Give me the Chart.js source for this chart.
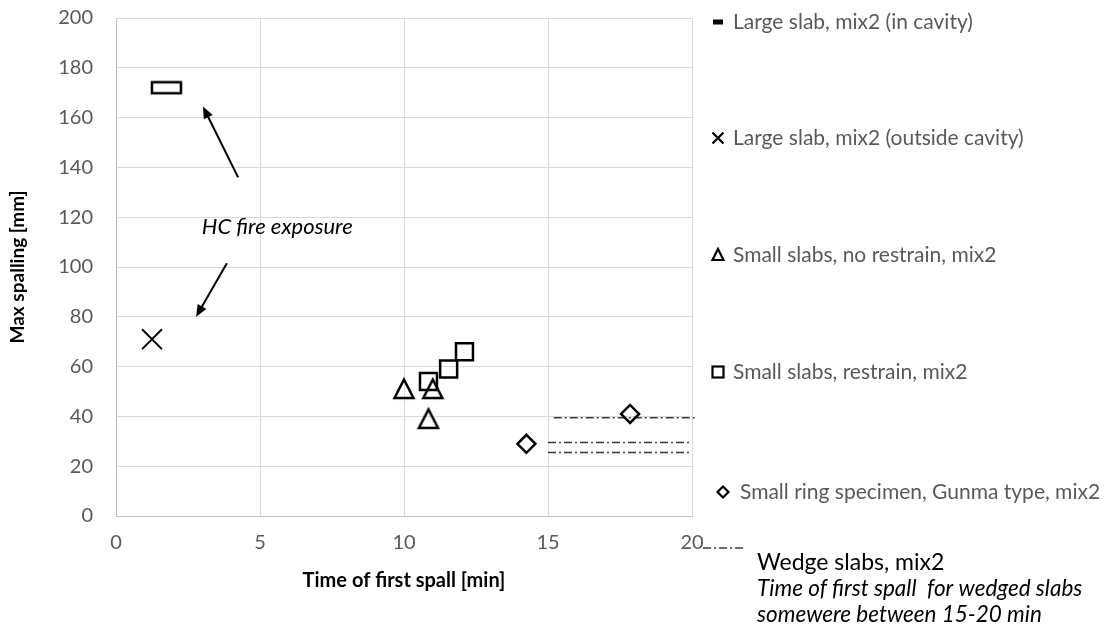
<!DOCTYPE html>
<html>
<head>
<meta charset="utf-8">
<script src="https://cdn.jsdelivr.net/npm/chart.js"></script>
<style>
  html, body { margin: 0; padding: 0; background: #fff; }
  #wrap { width: 1105px; height: 628px; }
</style>
</head>
<body>
<div id="wrap"><canvas id="spall" width="1105" height="628"></canvas></div>
<script>
// time of first spall [min] and max spalling depth [mm] per specimen group
const cavityTime = [1.75];
const cavitySpall = [172];
const outsideTime = [1.25];
const outsideSpall = [71];
const noRestrainTime = [10.0, 11.0, 10.85];
const noRestrainSpall = [51, 51, 39];
const restrainTime = [10.85, 11.55, 12.1];
const restrainSpall = [54, 59, 66];
const ringTime = [14.25, 17.85];
const ringSpall = [29, 41];
// wedge slabs: first spall somewhere between 15 and 20 min
const wedgeFrom = [15.2, 15.0, 15.0];
const wedgeTo = [20.1, 20.0, 20.0];
const wedgeSpall = [39.5, 29.5, 25.5];

const xTicks = [0, 5, 10, 15, 20];
const yTicks = [0, 20, 40, 60, 80, 100, 120, 140, 160, 180, 200];

const seriesNames = [
  'Large slab, mix2 (in cavity)',
  'Large slab, mix2 (outside cavity)',
  'Small slabs, no restrain, mix2',
  'Small slabs, restrain, mix2',
  'Small ring specimen, Gunma type, mix2',
  'Wedge slabs, mix2'
];
const wedgeNote = ['Time of first spall  for wedged slabs', 'somewere between 15-20 min'];
const fireNote = 'HC fire exposure';

const FONT = 'Lato';
const GREY = '#595959';
const DASHDOT = [8, 3, 2, 3];

function pts(xs, ys) {
  return xs.map((v, i) => ({x: v, y: ys[i]}));
}

function markCanvas(w, h, draw) {
  const c = document.createElement('canvas');
  c.width = w; c.height = h;
  const g = c.getContext('2d');
  g.strokeStyle = '#000';
  g.lineWidth = 2.5;
  draw(g);
  return c;
}

const wideRect = markCanvas(33, 15, g => g.strokeRect(2, 2, 29, 11));
const triMark = markCanvas(24, 24, g => {
  g.beginPath();
  g.moveTo(12, 2.5);
  g.lineTo(21.5, 21);
  g.lineTo(2.5, 21);
  g.closePath();
  g.stroke();
});

const datasets = [
  {label: seriesNames[0], data: pts(cavityTime, cavitySpall), pointStyle: wideRect},
  {label: seriesNames[1], data: pts(outsideTime, outsideSpall), pointStyle: 'crossRot', pointRadius: 14, borderWidth: 2},
  {label: seriesNames[2], data: pts(noRestrainTime, noRestrainSpall), pointStyle: triMark},
  {label: seriesNames[3], data: pts(restrainTime, restrainSpall), pointStyle: 'rect', pointRadius: 12, borderWidth: 2.5},
  {label: seriesNames[4], data: pts(ringTime, ringSpall), pointStyle: 'rectRot', pointRadius: 9, borderWidth: 2.5}
];
wedgeSpall.forEach((v, i) => {
  datasets.push({
    label: seriesNames[5],
    data: [{x: wedgeFrom[i], y: v}, {x: wedgeTo[i], y: v}],
    showLine: true,
    pointRadius: 0,
    borderColor: '#3a3a3a',
    borderWidth: 1.5,
    borderDash: DASHDOT,
    clip: false
  });
});
datasets.forEach(d => {
  if (!d.showLine) {
    d.borderColor = '#000';
    d.backgroundColor = 'rgba(0,0,0,0)';
    if (d.pointRadius === undefined) d.pointRadius = 10;
  }
});

function arrow(ctx, x1, y1, x2, y2) {
  const a = Math.atan2(y2 - y1, x2 - x1);
  const c = Math.cos(a), s = Math.sin(a);
  ctx.beginPath();
  ctx.moveTo(x1, y1);
  ctx.lineTo(x2 - 9 * c, y2 - 9 * s);
  ctx.stroke();
  ctx.beginPath();
  ctx.moveTo(x2, y2);
  ctx.lineTo(x2 - 12 * c + 5 * s, y2 - 12 * s - 5 * c);
  ctx.lineTo(x2 - 12 * c - 5 * s, y2 - 12 * s + 5 * c);
  ctx.closePath();
  ctx.fill();
}

// arrows pointing from the note to the two large-slab results (data units)
const arrows = [
  [4.24, 136, 3.02, 164.5],
  [3.85, 101.5, 2.78, 80]
];

const notes = {
  id: 'notes',
  afterDatasetsDraw(chart) {
    const {ctx, scales: {x, y}} = chart;
    ctx.save();
    ctx.strokeStyle = '#000';
    ctx.fillStyle = '#000';
    ctx.lineWidth = 2;
    arrows.forEach(a => arrow(ctx, x.getPixelForValue(a[0]), y.getPixelForValue(a[1]),
      x.getPixelForValue(a[2]), y.getPixelForValue(a[3])));
    ctx.font = 'italic 22px ' + FONT;
    ctx.textAlign = 'center';
    ctx.textBaseline = 'middle';
    ctx.fillText(fireNote, x.getPixelForValue(5.6), y.getPixelForValue(116));
    ctx.restore();
  },
  afterDraw(chart) {
    const ctx = chart.ctx;
    const mx = 718, tx = 733;
    const rows = [22, 138, 255, 372, 492];
    ctx.save();
    ctx.fillStyle = '#000';
    ctx.strokeStyle = '#000';
    ctx.lineWidth = 2.2;
    // in cavity: short bar
    ctx.fillRect(mx - 5, rows[0] - 2.5, 10, 5);
    // outside cavity: cross
    let y = rows[1];
    ctx.beginPath();
    ctx.moveTo(mx - 5.5, y - 5.5); ctx.lineTo(mx + 5.5, y + 5.5);
    ctx.moveTo(mx + 5.5, y - 5.5); ctx.lineTo(mx - 5.5, y + 5.5);
    ctx.stroke();
    // no restrain: triangle
    y = rows[2];
    ctx.beginPath();
    ctx.moveTo(mx, y - 6); ctx.lineTo(mx + 5.5, y + 5); ctx.lineTo(mx - 5.5, y + 5);
    ctx.closePath(); ctx.stroke();
    // restrain: square
    y = rows[3];
    ctx.strokeRect(mx - 5.5, y - 5.5, 11, 11);
    // ring: diamond
    y = rows[4];
    const dx = mx + 5;
    ctx.beginPath();
    ctx.moveTo(dx, y - 5.5); ctx.lineTo(dx + 5.5, y); ctx.lineTo(dx, y + 5.5); ctx.lineTo(dx - 5.5, y);
    ctx.closePath(); ctx.stroke();

    ctx.font = '21px ' + FONT;
    ctx.fillStyle = GREY;
    ctx.textBaseline = 'middle';
    ctx.textAlign = 'left';
    rows.forEach((r, i) => ctx.fillText(seriesNames[i], i === 4 ? tx + 7 : tx, r));

    // wedge slabs legend line and notes
    ctx.strokeStyle = '#3a3a3a';
    ctx.lineWidth = 1.5;
    ctx.setLineDash(DASHDOT);
    ctx.beginPath();
    ctx.moveTo(703, 548); ctx.lineTo(744, 548);
    ctx.stroke();
    ctx.setLineDash([]);
    ctx.fillStyle = '#000';
    ctx.font = '23px ' + FONT;
    ctx.fillText(seriesNames[5], 757, 563);
    ctx.font = 'italic 22.5px ' + FONT;
    ctx.fillText(wedgeNote[0], 757, 589);
    ctx.fillText(wedgeNote[1], 757, 615);
    ctx.restore();
  }
};

new Chart(document.getElementById('spall'), {
  type: 'scatter',
  data: {datasets: datasets},
  options: {
    responsive: false,
    animation: false,
    events: [],
    layout: {padding: {left: 0, top: 18, right: 413, bottom: 0}},
    plugins: {legend: {display: false}, tooltip: {enabled: false}},
    scales: {
      x: {
        type: 'linear',
        min: 0, max: 20,
        afterBuildTicks: s => { s.ticks = xTicks.map(v => ({value: v})); },
        afterFit: s => { s.height = 112; s.paddingLeft = 0; s.paddingRight = 0; },
        grid: {color: '#d9d9d9', drawTicks: false},
        border: {color: '#bfbfbf'},
        ticks: {padding: 15, color: GREY, font: {family: FONT, size: 20}},
        title: {display: true, text: 'Time of first spall [min]', color: '#000',
          font: {family: FONT, size: 20, weight: 'bold'}, padding: {top: 0, bottom: 35}}
      },
      y: {
        min: 0, max: 200,
        afterBuildTicks: s => { s.ticks = yTicks.map(v => ({value: v})); },
        afterFit: s => { s.width = 116; s.paddingTop = 0; s.paddingBottom = 0; },
        grid: {color: '#d9d9d9', drawTicks: false},
        border: {color: '#bfbfbf'},
        ticks: {padding: 23, color: GREY, font: {family: FONT, size: 20}},
        title: {display: true, text: 'Max spalling [mm]', color: '#000',
          font: {family: FONT, size: 19, weight: 'bold'}, padding: {top: 6, bottom: 0}}
      }
    }
  },
  plugins: [notes]
});
</script>
</body>
</html>
